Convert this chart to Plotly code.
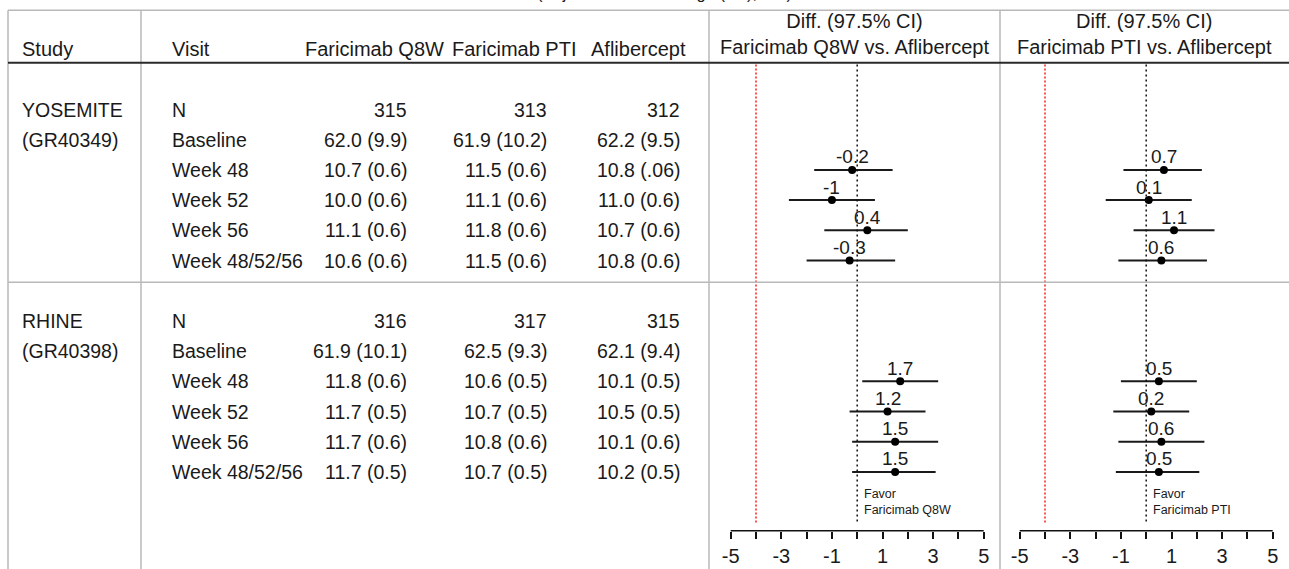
import plotly.graph_objects as go

# ---------------- data ----------------
studies = ["YOSEMITE", "RHINE"]
study_ids = ["(GR40349)", "(GR40398)"]
visits = ["N", "Baseline", "Week 48", "Week 52", "Week 56", "Week 48/52/56"]
arms = ["Faricimab Q8W", "Faricimab PTI", "Aflibercept"]

yosemite_q8w = ["315", "62.0 (9.9)", "10.7 (0.6)", "10.0 (0.6)", "11.1 (0.6)", "10.6 (0.6)"]
yosemite_pti = ["313", "61.9 (10.2)", "11.5 (0.6)", "11.1 (0.6)", "11.8 (0.6)", "11.5 (0.6)"]
yosemite_afl = ["312", "62.2 (9.5)", "10.8 (.06)", "11.0 (0.6)", "10.7 (0.6)", "10.8 (0.6)"]

rhine_q8w = ["316", "61.9 (10.1)", "11.8 (0.6)", "11.7 (0.5)", "11.7 (0.6)", "11.7 (0.5)"]
rhine_pti = ["317", "62.5 (9.3)", "10.6 (0.5)", "10.7 (0.5)", "10.8 (0.6)", "10.7 (0.5)"]
rhine_afl = ["315", "62.1 (9.4)", "10.1 (0.5)", "10.5 (0.5)", "10.1 (0.6)", "10.2 (0.5)"]

# differences vs. aflibercept (97.5% CI), visits Week 48, 52, 56, 48/52/56
forest_visits = ["Week 48", "Week 52", "Week 56", "Week 48/52/56"]

yosemite_q8w_diff = [-0.2, -1.0, 0.4, -0.3]
yosemite_q8w_lo = [-1.7, -2.7, -1.3, -2.0]
yosemite_q8w_hi = [1.4, 0.7, 2.0, 1.5]

yosemite_pti_diff = [0.7, 0.1, 1.1, 0.6]
yosemite_pti_lo = [-0.9, -1.6, -0.5, -1.1]
yosemite_pti_hi = [2.2, 1.8, 2.7, 2.4]

rhine_q8w_diff = [1.7, 1.2, 1.5, 1.5]
rhine_q8w_lo = [0.2, -0.3, -0.2, -0.2]
rhine_q8w_hi = [3.2, 2.7, 3.2, 3.1]

rhine_pti_diff = [0.5, 0.2, 0.6, 0.5]
rhine_pti_lo = [-1.0, -1.3, -1.1, -1.2]
rhine_pti_hi = [2.0, 1.7, 2.3, 2.1]

ni_margin = -4
axis_ticks = list(range(-5, 6))
axis_labels = ["-5", "", "-3", "", "-1", "", "1", "", "3", "", "5"]

panel_headers = ["Diff. (97.5% CI)<br>Faricimab Q8W vs. Aflibercept",
                 "Diff. (97.5% CI)<br>Faricimab PTI vs. Aflibercept"]
favor_labels = ["Favor<br>Faricimab Q8W", "Favor<br>Faricimab PTI"]
title_text = "(Adjusted Mean Change (SE), ITT)"

# ---------------- geometry ----------------
W, H = 1289, 569
FONT = "Liberation Sans, Arial, sans-serif"
TXT = "#1a1a1a"
GRID = "#b9b9b9"
BODY_SIZE = 19.5
HEAD_SIZE = 20

ROW0_PX, ROW_PX = 109.5, 30.2          # pixel centre of first row, row pitch
BLOCK_START = [0, 7]                    # first row of each study block
FOREST_OFFSET = 2                       # forest rows start at "Week 48"


def px_to_row(y):
    return (y - ROW0_PX) / ROW_PX


def px(x):
    return x / W


def py(y):
    return 1 - y / H


STUDY_X, VISIT_X = 20, 170
VALUE_RIGHT = [409.3, 549.3, 681.7]
HEADER_CX = [374.7, 514.0, 638.5]

UNIT_PX = 25.3
PANELS = [(709, 1000, 857.2), (1000, 1289, 1146.2)]   # left, right, zero position
AXIS_Y = 530.7
LINE_TOP = 64.5
LINE_BOTTOM = 524

fig = go.Figure()

# ---------------- forest panels ----------------
panel_data = [
    [(yosemite_q8w_diff, yosemite_q8w_lo, yosemite_q8w_hi),
     (rhine_q8w_diff, rhine_q8w_lo, rhine_q8w_hi)],
    [(yosemite_pti_diff, yosemite_pti_lo, yosemite_pti_hi),
     (rhine_pti_diff, rhine_pti_lo, rhine_pti_hi)],
]

annotations = []
shapes = []

for p, (left, right, zero) in enumerate(PANELS):
    xa = "x%d" % (p + 2)
    for b, (diff, lo, hi) in enumerate(panel_data[p]):
        rows = [BLOCK_START[b] + FOREST_OFFSET + i for i in range(len(forest_visits))]
        xs, ys = [], []
        for r, l, h in zip(rows, lo, hi):
            xs += [l, h, None]
            ys += [r, r, None]
        fig.add_trace(go.Scatter(x=xs, y=ys, mode="lines", xaxis=xa, yaxis="y",
                                 line=dict(color="#1a1a1a", width=2),
                                 hoverinfo="skip", showlegend=False))
        fig.add_trace(go.Scatter(x=diff, y=rows, mode="markers", xaxis=xa, yaxis="y",
                                 marker=dict(color="black", size=8),
                                 showlegend=False))
        for r, d in zip(rows, diff):
            annotations.append(dict(x=d, y=r, xref=xa, yref="y", text=f"{d:g}",
                                    showarrow=False, yshift=13,
                                    xanchor="center", yanchor="middle",
                                    font=dict(family=FONT, size=19, color=TXT)))
    # reference lines: zero and non-inferiority margin
    shapes.append(dict(type="line", xref=xa, yref="paper", x0=0, x1=0,
                       y0=py(LINE_TOP), y1=py(LINE_BOTTOM),
                       line=dict(color="#111111", width=1.5, dash="2px,3px")))
    shapes.append(dict(type="line", xref=xa, yref="paper", x0=ni_margin, x1=ni_margin,
                       y0=py(LINE_TOP), y1=py(LINE_BOTTOM),
                       line=dict(color="#ff1a1a", width=1.5, dash="2px,2px")))
    # axis line spanning the tick range only
    shapes.append(dict(type="line", xref=xa, yref="paper",
                       x0=axis_ticks[0], x1=axis_ticks[-1],
                       y0=py(AXIS_Y), y1=py(AXIS_Y),
                       line=dict(color="#111111", width=1.5)))
    annotations.append(dict(x=0, y=px_to_row(501.5), xref=xa, yref="y",
                            text=favor_labels[p], showarrow=False, xanchor="left",
                            yanchor="middle", align="left", xshift=5,
                            font=dict(family=FONT, size=12.5, color=TXT)))
    annotations.append(dict(x=px((left + right) / 2), y=py(34.5), xref="paper",
                            yref="paper", text=panel_headers[p], showarrow=False,
                            xanchor="center", yanchor="middle", align="center",
                            font=dict(family=FONT, size=HEAD_SIZE, color=TXT)))
    fig.update_layout(**{
        "xaxis%d" % (p + 2): dict(
            domain=[px(left), px(right)],
            range=[(left - zero) / UNIT_PX, (right - zero) / UNIT_PX],
            anchor="free", position=py(AXIS_Y), side="bottom",
            showgrid=False, zeroline=False, showline=False,
            ticks="outside", ticklen=7, tickwidth=1.5, tickcolor="#111111",
            tickvals=axis_ticks, ticktext=axis_labels,
            tickfont=dict(family=FONT, size=20, color=TXT),
            fixedrange=True,
        )
    })

# ---------------- table ----------------
table_cols = [[yosemite_q8w, yosemite_pti, yosemite_afl],
              [rhine_q8w, rhine_pti, rhine_afl]]


def cell(x, y, text, anchor, size=BODY_SIZE):
    return dict(x=x, y=y, xref="x", yref="y", text=text, showarrow=False,
                xanchor=anchor, yanchor="middle",
                font=dict(family=FONT, size=size, color=TXT))


for b, start in enumerate(BLOCK_START):
    annotations.append(cell(STUDY_X, start, studies[b], "left"))
    annotations.append(cell(STUDY_X, start + 1, study_ids[b], "left"))
    for i, v in enumerate(visits):
        annotations.append(cell(VISIT_X, start + i, v, "left"))
        for c in range(len(arms)):
            annotations.append(cell(VALUE_RIGHT[c], start + i, table_cols[b][c][i], "right"))

header_row = px_to_row(49)
annotations.append(cell(STUDY_X, header_row, "Study", "left", HEAD_SIZE))
annotations.append(cell(VISIT_X, header_row, "Visit", "left", HEAD_SIZE))
for c, a in enumerate(arms):
    annotations.append(cell(HEADER_CX[c], header_row, a, "center", HEAD_SIZE))

# title sitting above the top edge
annotations.append(dict(x=px(664.5), y=1, xref="paper", yref="paper", text=title_text,
                        showarrow=False, xanchor="center", yanchor="bottom", yshift=-4,
                        font=dict(family=FONT, size=16.5, color=TXT)))

# ---------------- rules ----------------
for xv in [8, 141, 709, 1000]:
    shapes.append(dict(type="line", xref="paper", yref="paper", x0=px(xv), x1=px(xv),
                       y0=py(10.3), y1=py(H + 2), line=dict(color=GRID, width=1.5)))
shapes.append(dict(type="line", xref="paper", yref="paper", x0=px(8), x1=1,
                   y0=py(10.3), y1=py(10.3), line=dict(color=GRID, width=1.5)))
shapes.append(dict(type="line", xref="paper", yref="paper", x0=px(8), x1=1,
                   y0=py(282.3), y1=py(282.3), line=dict(color=GRID, width=1.5)))
shapes.append(dict(type="line", xref="paper", yref="paper", x0=px(8), x1=1,
                   y0=py(62.7), y1=py(62.7), line=dict(color="#2a2a2a", width=2)))

fig.update_layout(
    width=W, height=H,
    margin=dict(l=0, r=0, t=0, b=0),
    paper_bgcolor="white", plot_bgcolor="white",
    showlegend=False,
    xaxis=dict(domain=[0, 1], range=[0, W], visible=False, fixedrange=True),
    yaxis=dict(domain=[0, 1], range=[px_to_row(H), px_to_row(0)], visible=False,
               fixedrange=True),
    shapes=shapes,
    annotations=annotations,
    font=dict(family=FONT, color=TXT),
)

fig.write_html("out.html")
